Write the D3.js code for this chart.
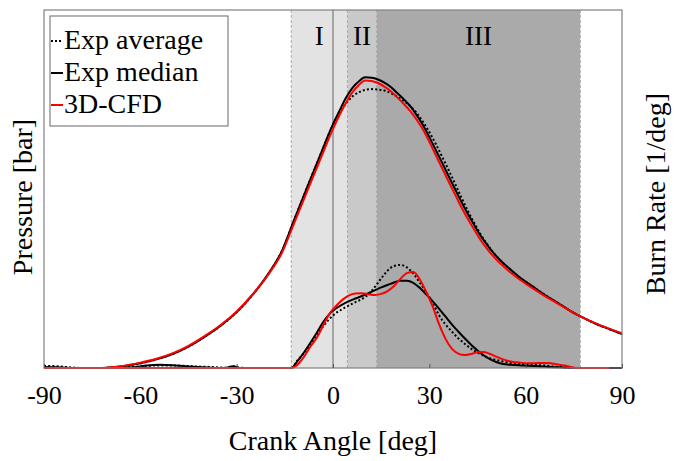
<!DOCTYPE html>
<html>
<head>
<meta charset="utf-8">
<script src="https://cdn.jsdelivr.net/npm/d3@7"></script>
<style>
  html, body { margin: 0; padding: 0; background: #fff; }
  svg { display: block; }
  text { font-family: "Liberation Serif", "Times New Roman", serif; fill: #000; }
</style>
</head>
<body>
<svg id="chart" width="678" height="461"></svg>
<script>
// ---- Data ----
const xTicks = [-90, -60, -30, 0, 30, 60, 90];
const regionNames = ["I", "II", "III"];
const regionEdges = [-13, 4.5, 13.6, 77];

const pAngles = [-90,-80,-72,-66,-60,-55,-50,-45,-40,-35,-30,-25,-20,-16,-12,-8,-4,0,2,4,6,8,10,12,14,16,18,20,22,24,26,28,30,32,34,36,38,40,42,44,46,48,50,52,55,58,62,66,70,74,78,82,86,90];
const pMedian = [0,0,0,0.4,1.3,2.4,3.9,6.0,8.7,11.8,15.6,20.5,26.5,32.5,41.6,50.6,59.4,68.1,71.8,75.4,78.2,80.0,81.2,81.1,80.6,79.7,78.5,76.8,75.1,73.2,70.7,67.9,64.5,60.9,57.3,53.6,50.0,46.4,43.0,39.9,36.9,34.4,32.1,30.2,27.7,25.4,22.9,20.4,18.2,15.9,14.0,12.3,10.9,9.5];
const pAverage = [0,0,0,0.4,1.3,2.4,3.9,6.0,8.7,11.8,15.6,20.5,26.5,32.5,41.6,50.6,59.4,67.9,71.3,73.8,75.8,77.0,77.7,77.9,77.8,77.5,76.8,75.8,74.6,73.2,71.3,68.8,65.9,62.6,59.0,55.3,51.5,47.6,43.9,40.5,37.3,34.6,32.2,30.2,27.7,25.4,22.9,20.4,18.2,15.9,14.0,12.3,10.9,9.5];
const pCFD = [0,0,0,0.5,1.5,2.6,4.1,6.2,8.9,12.0,15.8,20.6,26.3,32.0,40.7,49.5,58.2,66.8,70.6,74.0,77.0,79.0,80.3,80.2,79.6,78.6,77.3,75.6,73.8,71.8,69.4,66.6,63.2,59.5,55.8,52.1,48.5,44.9,41.6,38.6,35.7,33.3,31.1,29.3,26.9,24.8,22.4,20.1,18.0,15.9,14.0,12.4,11.0,9.7];

const bAngles = [-90,-86,-82,-78,-70,-62,-58,-54,-50,-46,-42,-38,-34,-31,-29,-26,-20,-13,-11,-9,-7,-5,-3,-1,1,3,5,7,9,11,13,15,17,19,21,23,25,27,29,31,33,35,37,39,41,43,45,47,49,51,53,55,58,61,64,67,70,73,76,80,86,90];
const bMedian = [0.3,0.2,0,0,0,0.2,0.7,0.9,0.8,0.5,0.3,0.1,0,0.5,0,0,0,0,2.0,4.4,7.1,9.9,12.9,15.2,16.7,17.8,18.7,19.4,20.1,20.9,21.7,22.5,23.2,23.9,24.4,24.4,23.8,22.4,20.6,18.7,16.6,14.4,12.2,10.2,8.3,6.5,4.9,3.5,2.4,1.6,1.1,0.9,0.8,0.6,0.5,0.3,0.2,0.1,0,0,0,0];
const bAverage = [0.6,0.5,0.2,0,0,0.3,0.6,0.7,0.7,0.6,0.4,0.3,0.1,0.4,0.1,0,0,0,2.2,4.2,6.5,9.2,11.7,13.8,15.4,16.5,17.5,18.4,19.3,20.5,22.6,25.0,27.2,28.5,28.8,28.1,26.4,23.9,21.2,18.3,14.8,12.2,10.2,8.3,6.8,5.4,4.3,3.4,2.7,2.2,1.8,1.5,1.2,1.0,0.8,0.6,0.3,0.1,0,0,0,0];
const bCFD = [0,0,0,0,0,0,0,0,0,0,0,0,0,0,0,0,0,0,1.0,3.2,6.0,8.5,12.0,15.3,17.4,19.1,20.3,20.8,20.9,20.6,20.4,20.7,21.5,22.9,24.9,26.5,26.8,24.8,21.3,17.3,12.3,8.2,5.4,4.0,3.6,3.9,4.4,4.5,3.9,3.1,2.4,1.9,1.5,1.3,1.4,1.4,1.0,0.5,0,0,0,null];

const seriesNames = ["Exp average", "Exp median", "3D-CFD"];

// ---- Layout ----
const svg = d3.select("#chart");
const L = 44, R = 622, T = 10, B = 368;

const x = d3.scaleLinear().domain([-90, 90]).range([L, R]);
const yP = d3.scaleLinear().domain([0, 100]).range([B, T]);
const yB = d3.scaleLinear().domain([0, 100]).range([B, T]);

// Background regions
const bandColors = ["#e3e3e3", "#c9c9c9", "#aaaaaa"];
for (let i = 0; i < 3; i++) {
  svg.append("rect")
    .attr("x", x(regionEdges[i])).attr("y", T)
    .attr("width", x(regionEdges[i + 1]) - x(regionEdges[i]))
    .attr("height", B - T)
    .attr("fill", bandColors[i]);
}
regionEdges.forEach(e => {
  svg.append("line")
    .attr("x1", x(e)).attr("x2", x(e)).attr("y1", T).attr("y2", B)
    .attr("stroke", "#a8a8a8").attr("stroke-width", 1)
    .attr("stroke-dasharray", "3,2");
});
// TDC line
svg.append("line")
  .attr("x1", x(0)).attr("x2", x(0)).attr("y1", T).attr("y2", B)
  .attr("stroke", "#7a7a7a").attr("stroke-width", 1.2);

// Region labels
for (let i = 0; i < 3; i++) {
  svg.append("text")
    .attr("x", x((regionEdges[i] + regionEdges[i + 1]) / 2))
    .attr("y", 45)
    .attr("text-anchor", "middle")
    .attr("font-size", 27)
    .text(regionNames[i]);
}

// Curves
function drawLine(angles, vals, yS, color, dash) {
  const pts = angles.map((a, i) => [a, vals[i]]);
  const line = d3.line()
    .defined(d => d[1] !== null)
    .x(d => x(d[0])).y(d => yS(d[1]))
    .curve(d3.curveMonotoneX);
  svg.append("path")
    .datum(pts)
    .attr("d", line)
    .attr("fill", "none")
    .attr("stroke", color)
    .attr("stroke-width", 2)
    .attr("stroke-dasharray", dash || null);
}
drawLine(pAngles, pAverage, yP, "#000", "2,2.2");
drawLine(bAngles, bAverage, yB, "#000", "2,2.2");
drawLine(pAngles, pMedian, yP, "#000");
drawLine(bAngles, bMedian, yB, "#000");
drawLine(pAngles, pCFD, yP, "#ff0000");
drawLine(bAngles, bCFD, yB, "#ff0000");

// Frame
svg.append("rect")
  .attr("x", L).attr("y", T).attr("width", R - L).attr("height", B - T)
  .attr("fill", "none").attr("stroke", "#808080").attr("stroke-width", 1.2);

// X axis
const xAxis = d3.axisBottom(x).tickValues(xTicks).tickSize(-4).tickPadding(18).tickFormat(d3.format("d"));
const gx = svg.append("g").attr("transform", `translate(0,${B})`).call(xAxis);
gx.select(".domain").remove();
gx.selectAll(".tick line").attr("stroke", "#555");
gx.selectAll(".tick text")
  .attr("font-family", "Liberation Serif, Times New Roman, serif")
  .attr("font-size", 26)
  .attr("fill", "#000")
  .text(d => d < 0 ? "-" + Math.abs(d) : String(d));

// Axis titles
svg.append("text")
  .attr("x", x(0)).attr("y", 450)
  .attr("text-anchor", "middle").attr("font-size", 28)
  .text("Crank Angle [deg]");
svg.append("text")
  .attr("transform", "translate(32,197) rotate(-90)")
  .attr("text-anchor", "middle").attr("font-size", 28)
  .text("Pressure [bar]");
svg.append("text")
  .attr("transform", "translate(665,194) rotate(-90)")
  .attr("text-anchor", "middle").attr("font-size", 28)
  .text("Burn Rate [1/deg]");

// Legend
const lg = svg.append("g");
lg.append("rect")
  .attr("x", 50).attr("y", 16).attr("width", 178).attr("height", 110)
  .attr("fill", "#fff").attr("stroke", "#808080").attr("stroke-width", 1.2);
const legColors = ["#000", "#000", "#ff0000"];
const legDash = ["2,2", null, null];
seriesNames.forEach((name, i) => {
  const by = 49 + i * 32;
  lg.append("line")
    .attr("x1", 51).attr("x2", 63).attr("y1", by - 8).attr("y2", by - 8)
    .attr("stroke", legColors[i]).attr("stroke-width", 2)
    .attr("stroke-dasharray", legDash[i]);
  lg.append("text")
    .attr("x", 64).attr("y", by)
    .attr("font-size", 28)
    .text(name);
});
</script>
</body>
</html>
